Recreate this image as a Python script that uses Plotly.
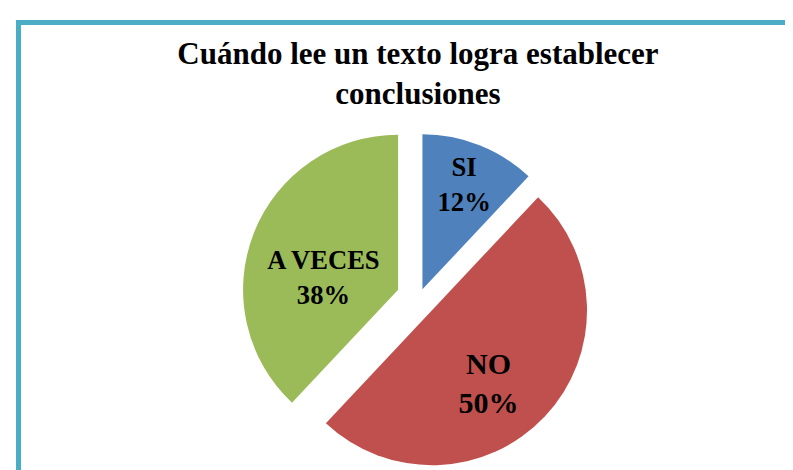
import plotly.graph_objects as go

labels = ["SI", "NO", "A VECES"]
values = [12, 50, 38]
colors = ["#4F81BD", "#C0504D", "#9BBB59"]
pulls = [0.06, 0.115, 0.145]
title_text = "Cuándo lee un texto logra establecer<br>conclusiones"

W, H = 793, 470
SERIF = "Liberation Serif"

templates = [
    "<b>%{label}<br>%{percent:.0%}</b>",
    "<b> <br>%{label}<br>%{percent:.0%}</b>",
    "<b> <br>%{label}<br>%{percent:.0%}</b>",
]

fig = go.Figure(go.Pie(
    labels=labels,
    values=values,
    sort=False,
    direction="clockwise",
    rotation=0,
    pull=pulls,
    marker=dict(colors=colors, line=dict(width=0)),
    texttemplate=templates,
    textposition="inside",
    insidetextorientation="horizontal",
    textfont=dict(family=SERIF, size=30, color="black"),
    showlegend=False,
    hoverinfo="skip",
    domain=dict(x=[233.5 / W, 588.5 / W], y=[2.5 / H, 357.5 / H]),
))

fig.update_layout(
    width=W, height=H,
    margin=dict(l=0, r=0, t=0, b=0),
    paper_bgcolor="white",
    plot_bgcolor="white",
    title=dict(
        text="<b>" + title_text + "</b>",
        x=0.517, xanchor="center",
        y=1 - 56 / H, yanchor="top",
        font=dict(family=SERIF, size=31, color="black"),
    ),
    shapes=[dict(
        type="rect", xref="paper", yref="paper",
        x0=10.5 / W, x1=1.05, y0=-0.05, y1=1 - 14.5 / H,
        line=dict(color="#4BACC6", width=5),
        fillcolor="rgba(0,0,0,0)",
        layer="below",
    )],
)

fig.write_html("out.html")
